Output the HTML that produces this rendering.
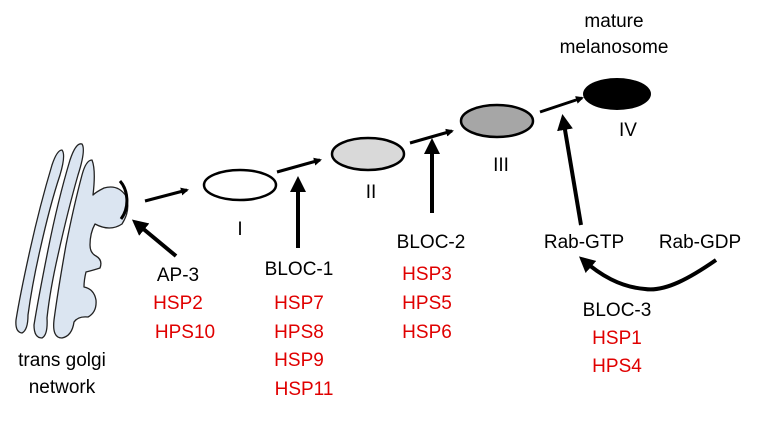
<!DOCTYPE html>
<html><head><meta charset="utf-8"><style>
body{margin:0;background:#fff}
svg text{font-family:"Liberation Sans",sans-serif;font-size:19px;dominant-baseline:middle;text-anchor:middle}
.r{fill:#e00000}
</style></head><body>
<svg width="770" height="431" viewBox="0 0 770 431">
<defs><marker id="a" markerWidth="8" markerHeight="8" refX="6" refY="4" orient="auto" markerUnits="userSpaceOnUse" viewBox="0 0 8 8"><path d="M0,0 L8,4 L0,8z" fill="#000"/></marker>
<marker id="b" markerWidth="16" markerHeight="16" refX="12" refY="8" orient="auto" markerUnits="userSpaceOnUse" viewBox="0 0 16 16"><path d="M0,0 L16,8 L0,16z" fill="#000"/></marker></defs>
<g fill="#dbe5f1" stroke="#222" stroke-width="1.3" stroke-linejoin="round">
<path d="M62,150 Q57,150 52,165 Q40,205 30,250 Q20,295 16,320 Q15,332 22,333 Q28,330 28,315 Q32,285 40,250 Q50,205 60,175 Q66,155 62,150z"/>
<path d="M82,144 Q76,142 70,160 Q58,200 48,250 Q38,300 34,325 Q34,338 42,338 Q48,335 47,318 Q50,290 58,255 Q68,210 78,175 Q86,150 82,144z"/>
<path d="M92,160 Q86,160 82,175 Q74,205 66,245 Q58,290 54,320 Q52,338 62,338 Q72,336 74,322 Q78,316 88,317 Q97,312 96,300 Q94,289 84,287 Q84,280 86,272 Q94,270 100,268 Q103,260 96,256 Q90,253 90,245 Q90,233 95,224 Q110,232 122,224 Q131,210 126,196 Q118,184 104,188 Q96,192 93,195 Q96,170 92,160z"/>
</g>
<path d="M120,181 C128,190 130,207 121,219" fill="none" stroke="#000" stroke-width="3"/>
<ellipse cx="240" cy="185" rx="36" ry="15" fill="#fff" stroke="#000" stroke-width="2.5"/>
<ellipse cx="368" cy="154" rx="36" ry="16" fill="#d9d9d9" stroke="#000" stroke-width="2.5"/>
<ellipse cx="497" cy="121" rx="36" ry="16" fill="#a6a6a6" stroke="#000" stroke-width="2.5"/>
<ellipse cx="617" cy="94" rx="34" ry="16" fill="#000"/>
<g stroke="#000" stroke-width="3" fill="none">
<line x1="145" y1="201" x2="187" y2="190" marker-end="url(#a)"/>
<line x1="277" y1="172" x2="320" y2="160" marker-end="url(#a)"/>
<line x1="410" y1="143" x2="452" y2="131" marker-end="url(#a)"/>
<line x1="540" y1="112" x2="582" y2="98" marker-end="url(#a)"/>
<line x1="298" y1="248" x2="298" y2="180" stroke-width="4" marker-end="url(#b)"/>
<line x1="432" y1="213" x2="432" y2="142" stroke-width="4" marker-end="url(#b)"/>
<line x1="581" y1="225" x2="563" y2="118" stroke-width="4" marker-end="url(#b)"/>
<line x1="176" y1="256" x2="135" y2="222" stroke-width="4" marker-end="url(#b)"/>
<path d="M716,260 C690,278 665,292 645,289 C620,287 600,275 582,259" stroke-width="4" marker-end="url(#b)"/>
</g>
<text x="614" y="22">mature</text><text x="614" y="48">melanosome</text>
<text x="628" y="131">IV</text><text x="501" y="166">III</text><text x="371" y="193">II</text><text x="240" y="230">I</text>
<text x="178" y="276">AP-3</text><text x="178" y="304" class="r">HSP2</text><text x="185" y="333" class="r">HPS10</text>
<text x="299" y="270">BLOC-1</text><text x="299" y="304" class="r">HSP7</text><text x="299" y="333" class="r">HPS8</text><text x="299" y="361" class="r">HSP9</text><text x="304" y="390" class="r">HSP11</text>
<text x="431" y="243">BLOC-2</text><text x="427" y="275" class="r">HSP3</text><text x="427" y="304" class="r">HPS5</text><text x="427" y="333" class="r">HSP6</text>
<text x="584" y="243">Rab-GTP</text><text x="700" y="243">Rab-GDP</text>
<text x="617" y="311">BLOC-3</text><text x="617" y="339" class="r">HSP1</text><text x="617" y="367" class="r">HPS4</text>
<text x="62" y="361">trans golgi</text><text x="62" y="388">network</text>
</svg>
</body></html>
